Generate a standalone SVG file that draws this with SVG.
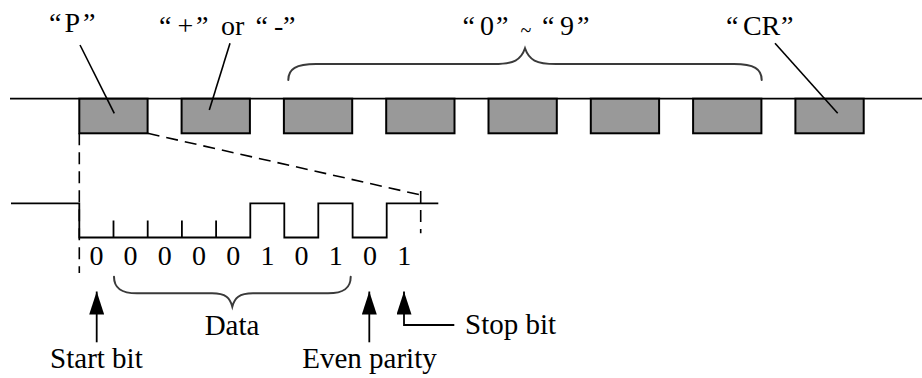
<svg xmlns="http://www.w3.org/2000/svg" width="922" height="378" viewBox="0 0 922 378">
<defs>
<style>
.ln{fill:none;stroke:#000;stroke-width:1.8}
.dash{fill:none;stroke:#000;stroke-width:1.6;stroke-dasharray:12 7}
.brace{fill:none;stroke:#3a3a3a;stroke-width:2;stroke-linecap:round}
.box{fill:#999999;stroke:#000;stroke-width:2}
.lead{fill:none;stroke:#000;stroke-width:1.6}
text{font-family:"Liberation Serif","Times New Roman",serif;fill:#000}
</style>
<marker id="ah" markerWidth="23" markerHeight="15" refX="23" refY="7.5" orient="auto" markerUnits="userSpaceOnUse" viewBox="0 0 23 15">
<path d="M0,0 L23,7.5 L0,15 Z" fill="#000"/>
</marker>
</defs>

<g id="frame-line">
<line class="ln" x1="10" y1="98.7" x2="922" y2="98.7"/>
</g>

<g id="char-P"><rect class="box" x="79.3" y="98.7" width="68.3" height="34.6"/></g>
<g id="char-sign"><rect class="box" x="181.6" y="98.7" width="68.3" height="34.6"/></g>
<g id="char-d1"><rect class="box" x="283.9" y="98.7" width="68.3" height="34.6"/></g>
<g id="char-d2"><rect class="box" x="386.2" y="98.7" width="68.3" height="34.6"/></g>
<g id="char-d3"><rect class="box" x="488.5" y="98.7" width="68.3" height="34.6"/></g>
<g id="char-d4"><rect class="box" x="590.8" y="98.7" width="68.3" height="34.6"/></g>
<g id="char-d5"><rect class="box" x="693.1" y="98.7" width="68.3" height="34.6"/></g>
<g id="char-CR"><rect class="box" x="795.4" y="98.7" width="68.3" height="34.6"/></g>

<g id="labels-top" font-size="28">
<text y="32"><tspan x="49">“</tspan><tspan x="64.5">P</tspan><tspan x="83">”</tspan></text>
<text y="35"><tspan x="159">“</tspan><tspan x="177.5">+</tspan><tspan x="196">” </tspan><tspan x="221">or </tspan><tspan x="255.5">“</tspan><tspan x="274">-</tspan><tspan x="283">”</tspan></text>
<text y="35"><tspan x="462.5">“</tspan><tspan x="480">0</tspan><tspan x="496">” </tspan><tspan x="520.5" y="37" font-size="20">~ </tspan><tspan x="542" y="35">“</tspan><tspan x="560">9</tspan><tspan x="577">”</tspan></text>
<text y="35"><tspan x="726">“</tspan><tspan x="743">C</tspan><tspan x="761.5">R</tspan><tspan x="781">”</tspan></text>
</g>

<g id="waveform">
<path class="ln" d="M11,203.3 H79.3 V237.5 H250.3 V203.3 H284.3 V237.5 H318.3 V203.3 H352.6 V237.5 H386.7 V203.3 H438.3"/>
<path class="ln" d="M113.5,237.5 V220.5 M147.7,237.5 V220.5 M181.9,237.5 V220.5 M216.1,237.5 V220.5"/>
</g>

<g id="bits" font-size="28" text-anchor="middle">
<text x="96.4" y="265">0</text>
<text x="130.6" y="265">0</text>
<text x="164.8" y="265">0</text>
<text x="199" y="265">0</text>
<text x="233.2" y="265">0</text>
<text x="267.4" y="265">1</text>
<text x="301.6" y="265">0</text>
<text x="335.8" y="265">1</text>
<text x="370" y="265">0</text>
<text x="404.2" y="265">1</text>
</g>

<g id="connectors">
<line class="lead" x1="80" y1="45" x2="114.3" y2="113.3"/>
<line class="lead" x1="230" y1="43.3" x2="209.3" y2="110"/>
<line class="lead" x1="775" y1="43.3" x2="837.7" y2="113.3"/>
<path class="brace" d="M288.3,80 C288.3,69 296,64 316,64 L494,64 C514,64 521,60 525,48.3 C529,60 536,64 556,64 L734,64 C754,64 761.7,69 761.7,80"/>
<line class="dash" x1="79.3" y1="133.3" x2="79.3" y2="273"/>
<line class="dash" x1="147.7" y1="133.3" x2="420.7" y2="195"/>
<line class="dash" x1="420.7" y1="191" x2="420.7" y2="233.3"/>
<path class="brace" d="M114,276.7 C114,288 121,293.3 137,293.3 L212,293.3 C226,293.3 230,298 232.3,306.7 C234.6,298 239,293.3 253,293.3 L328,293.3 C344,293.3 350.7,288 350.7,276.7"/>
<line class="ln" x1="96.7" y1="342.3" x2="96.7" y2="291.5" marker-end="url(#ah)"/>
<line class="ln" x1="369.3" y1="342.3" x2="369.3" y2="291.5" marker-end="url(#ah)"/>
<path class="ln" d="M454.3,325 H404 V291.5" marker-end="url(#ah)"/>
</g>

<g id="labels-bottom" font-size="29">
<text x="232" y="335" text-anchor="middle">Data</text>
<text x="96.4" y="368" text-anchor="middle">Start bit</text>
<text x="369.5" y="368" text-anchor="middle">Even parity</text>
<text x="465" y="334">Stop bit</text>
</g>
</svg>
